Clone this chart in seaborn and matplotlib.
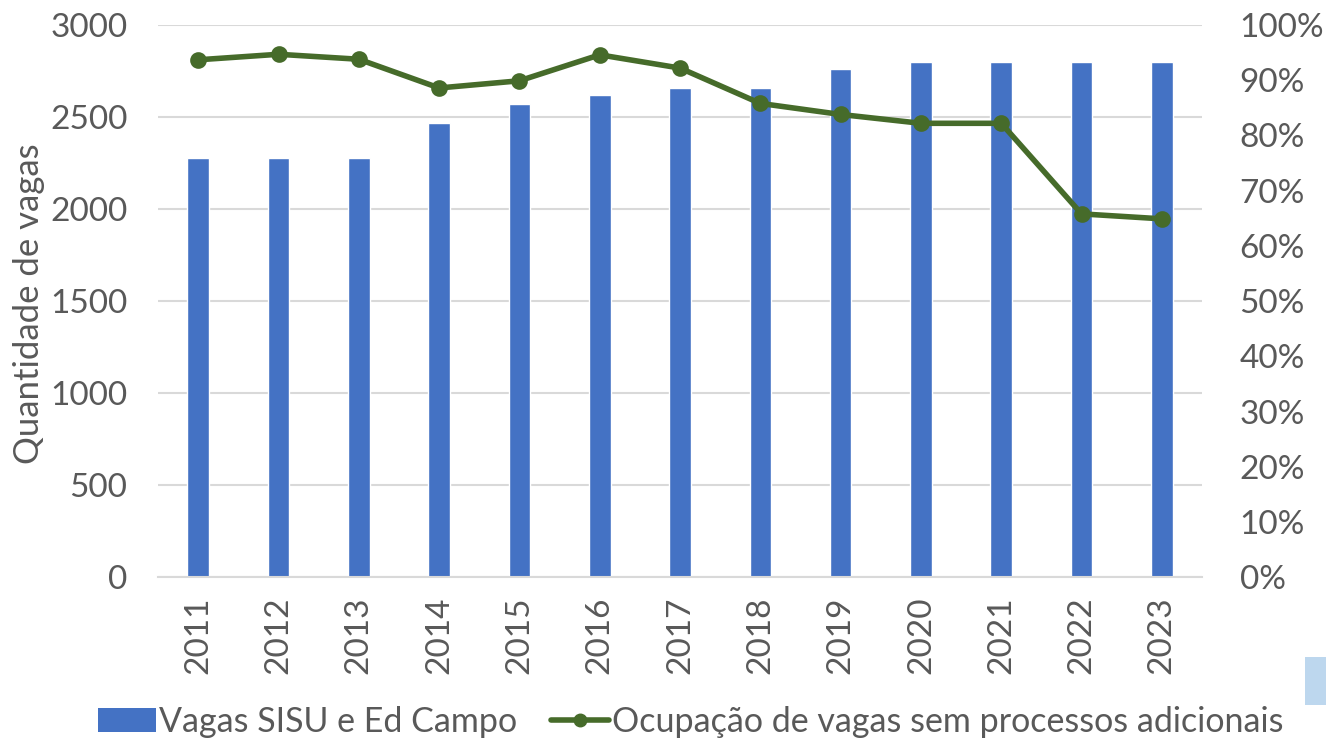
import matplotlib
matplotlib.use("Agg")
import matplotlib.pyplot as plt
import seaborn as sns
import pandas as pd
from matplotlib.patches import Patch, Rectangle
from matplotlib.lines import Line2D
from matplotlib.ticker import FuncFormatter

# data
years = ["2011", "2012", "2013", "2014", "2015", "2016", "2017",
         "2018", "2019", "2020", "2021", "2022", "2023"]
vagas = [2280, 2280, 2280, 2470, 2570, 2620, 2660,
         2660, 2760, 2800, 2800, 2800, 2800]
ocupacao = [93.7, 94.7, 93.8, 88.6, 89.9, 94.6, 92.2,
            85.8, 83.8, 82.2, 82.2, 65.8, 64.9]

bar_color = "#4472C4"
line_color = "#466B2A"
text_color = "#595959"
grid_color = "#D9D9D9"

sns.set_style("white")
plt.rcParams['font.family'] = ['Lato', 'DejaVu Sans']

df = pd.DataFrame({"ano": years, "vagas": vagas, "ocupacao": ocupacao})

fig = plt.figure(figsize=(13.26, 7.42), dpi=100)
ax = fig.add_axes([0.1192, 0.222, 0.7873, 0.7443])

sns.barplot(data=df, x="ano", y="vagas", color=bar_color, width=0.27,
            saturation=1, ax=ax, zorder=2)
ax.set_ylim(0, 3000)
ax.set_yticks(range(0, 3001, 500))
ax.yaxis.grid(True, color=grid_color, linewidth=1.5, zorder=0)
ax.set_axisbelow(True)
ax.set_xlabel("")
ax.set_ylabel("Quantidade de vagas", fontsize=25, color=text_color)
ax.yaxis.set_label_coords(-0.108, 0.495)
ax.tick_params(axis="y", labelsize=24, labelcolor=text_color, length=0, pad=22)
ax.tick_params(axis="x", labelsize=24, labelcolor=text_color, length=0,
               rotation=90, pad=14)
for s in ["top", "right", "left"]:
    ax.spines[s].set_visible(False)
ax.spines["bottom"].set_color(grid_color)
ax.spines["bottom"].set_linewidth(1.5)

ax2 = ax.twinx()
sns.pointplot(data=df, x="ano", y="ocupacao", color=line_color, markers="o",
              linestyles="-", linewidth=4, markersize=9, ax=ax2)
ax2.set_ylim(0, 100)
ax2.set_yticks(range(0, 101, 10))
ax2.yaxis.set_major_formatter(FuncFormatter(lambda v, p: f"{int(v)}%"))
ax2.tick_params(axis="y", labelsize=24, labelcolor=text_color, length=0, pad=27)
ax2.set_ylabel("")
ax2.set_xlabel("")
for s in ["top", "right", "left", "bottom"]:
    ax2.spines[s].set_visible(False)
ax.set_xlim(-0.5, len(years) - 0.5)
ax2.set_xlim(-0.5, len(years) - 0.5)

handles = [
    Patch(facecolor=bar_color, edgecolor="none", label="Vagas SISU e Ed Campo"),
    Line2D([0], [0], color=line_color, linewidth=4, marker="o", markersize=9,
           label="Ocupação de vagas sem processos adicionais"),
]
fig.legend(handles=handles, loc="lower center", bbox_to_anchor=(0.521, -0.036),
           ncol=2, frameon=False, fontsize=24.5, labelcolor=text_color,
           handlelength=1.7, handletextpad=0.1, columnspacing=1.0)

# small cut-off element at the bottom right edge
fig.patches.append(Rectangle((1305 / 1326, 1 - 705 / 742), 0.02, 48 / 742,
                             transform=fig.transFigure, facecolor="#BDD7EE",
                             edgecolor="none"))

fig.savefig("out.png", dpi=100)
